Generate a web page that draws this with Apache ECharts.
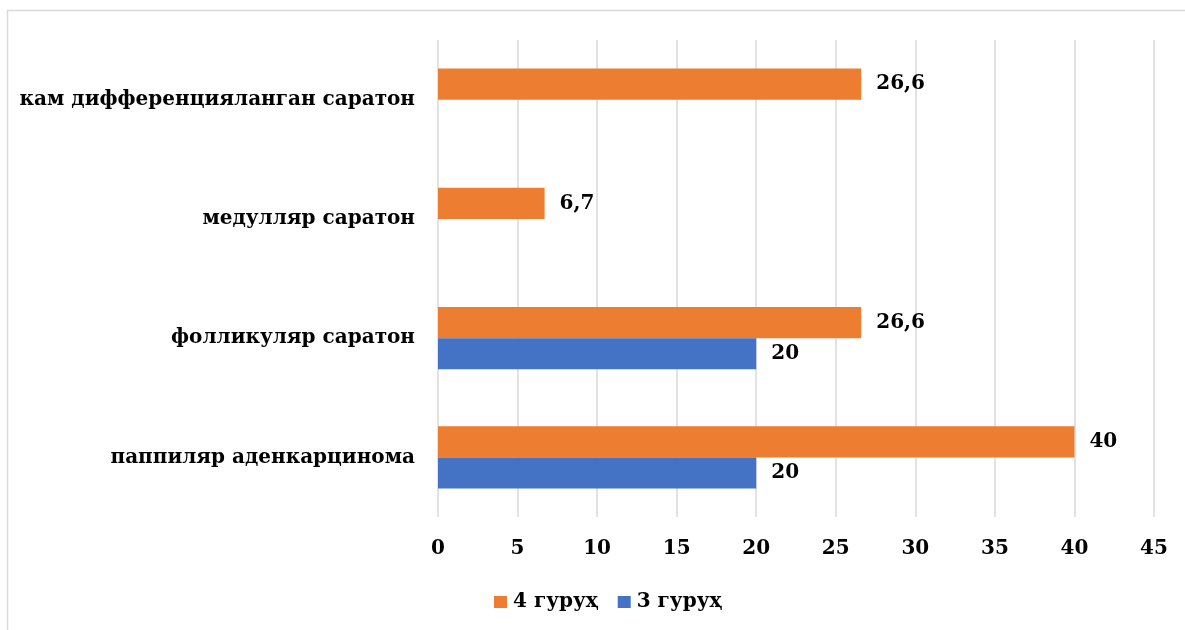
<!DOCTYPE html>
<html>
<head>
<meta charset="utf-8">
<style>
  html, body { margin: 0; padding: 0; background: #ffffff; }
  #chart { width: 1185px; height: 630px; }
</style>
<script src="https://cdn.jsdelivr.net/npm/echarts@6/dist/echarts.min.js"></script>
</head>
<body>
<div id="chart"></div>
<script>
// Categories, bottom to top
const categories = [
  'паппиляр аденкарцинома',
  'фолликуляр саратон',
  'медулляр саратон',
  'кам дифференцияланган саратон'
];
const group4 = [40, 26.6, 6.7, 26.6];
const group3 = [20, 20, null, null];
const seriesNames = ['4 гуруҳ', '3 гуруҳ'];
const xTicks = [0, 5, 10, 15, 20, 25, 30, 35, 40, 45];

const FONT = 'DejaVu Serif';
const ORANGE = '#ED7D31';
const BLUE = '#4472C4';

const chart = echarts.init(document.getElementById('chart'), null, { renderer: 'canvas' });

const labelStyle = {
  show: true,
  position: 'right',
  distance: 15,
  color: '#000',
  fontFamily: FONT,
  fontWeight: 'bold',
  fontSize: 20,
  formatter: p => String(p.value).replace('.', ',')
};

chart.setOption({
  animation: false,
  graphic: [{
    type: 'rect',
    shape: { x: 7.5, y: 10.5, width: 1300, height: 800 },
    style: { fill: 'none', stroke: '#d9d9d9', lineWidth: 1.5 },
    silent: true
  }],
  legend: {
    data: seriesNames,
    top: 587,
    left: 489,
    itemWidth: 13,
    itemHeight: 12,
    itemGap: 19,
    icon: 'rect',
    textStyle: { fontFamily: FONT, fontWeight: 'bold', fontSize: 20, color: '#000', padding: [0, 0, 0, 1] }
  },
  grid: { left: 438, right: 31, top: 40, bottom: 113, containLabel: false },
  xAxis: {
    type: 'value',
    min: xTicks[0],
    max: xTicks[xTicks.length - 1],
    interval: 5,
    axisLine: { show: false },
    axisTick: { show: false },
    splitLine: { lineStyle: { color: '#d9d9d9', width: 1.5 } },
    axisLabel: {
      margin: 22,
      color: '#000',
      fontFamily: FONT,
      fontWeight: 'bold',
      fontSize: 20
    }
  },
  yAxis: {
    type: 'category',
    data: categories,
    axisLine: { show: false },
    axisTick: { show: false },
    axisLabel: {
      margin: 23,
      color: '#000',
      fontFamily: FONT,
      fontWeight: 'bold',
      fontSize: 20
    }
  },
  series: [
    {
      name: seriesNames[0],
      type: 'bar',
      data: group4,
      itemStyle: { color: ORANGE },
      barGap: '0%',
      barCategoryGap: '48%',
      label: labelStyle
    },
    {
      name: seriesNames[1],
      type: 'bar',
      data: group3,
      itemStyle: { color: BLUE },
      barGap: '0%',
      barCategoryGap: '48%',
      label: labelStyle
    }
  ]
});
</script>
</body>
</html>
